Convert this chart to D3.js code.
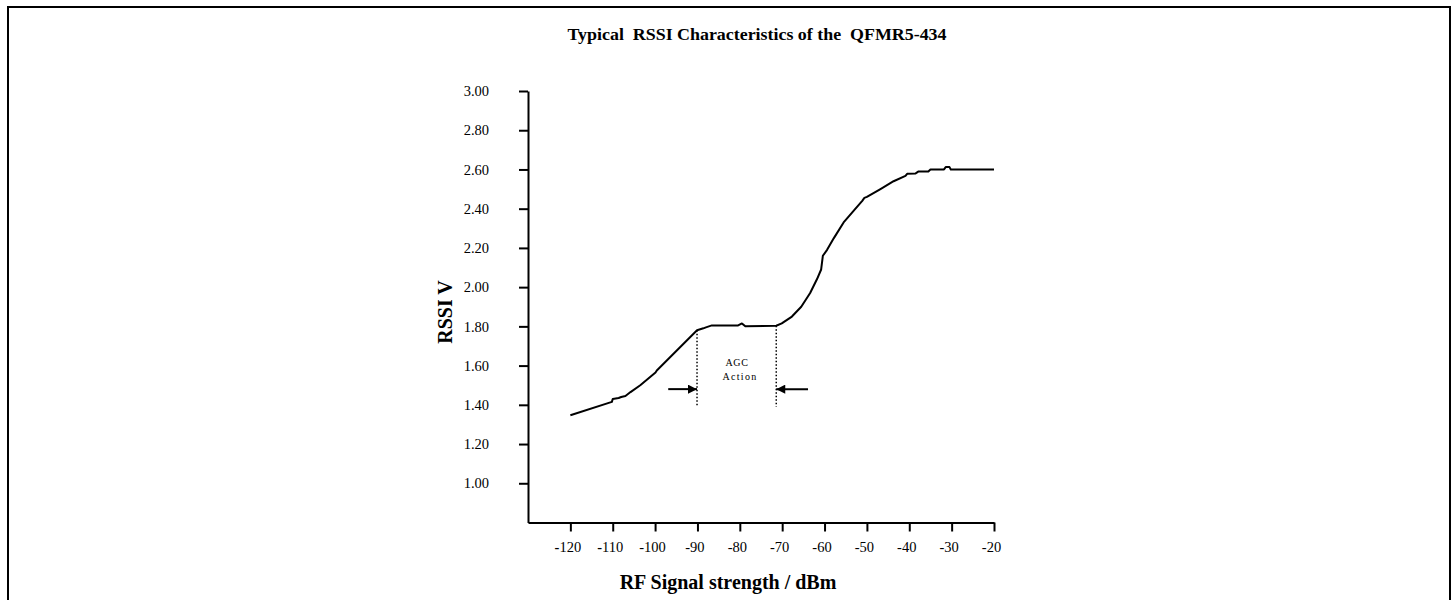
<!DOCTYPE html>
<html>
<head>
<meta charset="utf-8">
<script src="https://cdnjs.cloudflare.com/ajax/libs/d3/7.8.5/d3.min.js"></script>
<style>
    body { margin: 0; background: #fff; }
    svg text { font-family: "Liberation Serif", "Times New Roman", serif; fill: #000; }
</style>
</head>
<body>
<svg id="chart" width="1452" height="600"></svg>
<script>
// curve: signal strength (dBm) and RSSI (V)
var rfLevel = [-120, -110.2, -110, -108.6, -108, -107, -106.4, -105.8, -103.5, -99.9, -99.6, -90.1, -88.6, -88, -86.6, -80.4, -79.5, -78.7,
    -71.4, -70.1, -67.7, -65.5, -63.4, -61.8, -60.8, -60.4, -59.4, -57.8, -55.5, -53.1, -51.1, -50.6, -50, -46.8, -43.7,
    -40.9, -40.5, -38.5, -37.8, -35.5, -35, -31.8, -31.4, -30.5, -30.2, -20];
var rssi = [1.347, 1.415, 1.43, 1.435, 1.44, 1.445, 1.455, 1.465, 1.5, 1.565, 1.575, 1.78, 1.79, 1.795, 1.805, 1.805, 1.815, 1.8,
    1.803, 1.815, 1.85, 1.9, 1.97, 2.04, 2.09, 2.16, 2.19, 2.25, 2.33, 2.39, 2.44, 2.455, 2.46, 2.5, 2.54,
    2.567, 2.578, 2.58, 2.59, 2.59, 2.6, 2.6, 2.612, 2.612, 2.6, 2.6];

var xTicks = [-120, -110, -100, -90, -80, -70, -60, -50, -40, -30, -20];
var yTicks = [1.0, 1.2, 1.4, 1.6, 1.8, 2.0, 2.2, 2.4, 2.6, 2.8, 3.0];

// AGC band markers (dBm / V)
var agcEdges = [-90.1, -71.4];
var agcTop = [1.78, 1.803];
var agcBottom = 1.39;
var arrowFrom = [-96.9, -63.9];
var arrowLevel = 1.48;
var agcLabel = ['AGC', 'Action'];

var svg = d3.select('#chart');

// page frame
svg.append('rect')
    .attr('x', 8).attr('y', 7)
    .attr('width', 1442).attr('height', 640)
    .attr('fill', 'none').attr('stroke', '#000').attr('stroke-width', 2);

var x = d3.scaleLinear().domain([-130, -20]).range([528, 994]);
var y = d3.scaleLinear().domain([0.8, 3.0]).range([522.5, 91]);

// title
svg.append('text')
    .attr('x', 757).attr('y', 40)
    .attr('text-anchor', 'middle')
    .attr('font-size', 16).attr('font-weight', 'bold')
    .attr('textLength', 379).attr('lengthAdjust', 'spacingAndGlyphs')
    .style('white-space', 'pre')
    .text('Typical  RSSI Characteristics of the  QFMR5-434');

// axes
var xAxis = d3.axisBottom(x)
    .tickValues(xTicks)
    .tickSize(9).tickSizeOuter(0).tickPadding(10)
    .tickFormat(function(d){ return d; });

var yAxis = d3.axisLeft(y)
    .tickValues(yTicks)
    .tickSize(9).tickSizeOuter(0).tickPadding(30)
    .tickFormat(d3.format('.2f'));

var gx = svg.append('g')
    .attr('transform', 'translate(0,' + y(0.8) + ')')
    .call(xAxis);
var gy = svg.append('g')
    .attr('transform', 'translate(' + x(-130) + ',0)')
    .call(yAxis);

[gx, gy].forEach(function(g){
    g.select('.domain').attr('stroke-width', 2);
    g.selectAll('.tick line').attr('stroke-width', 2);
    g.selectAll('.tick text')
        .attr('font-size', 14.5)
        .attr('fill', '#222');
});
gx.selectAll('.tick text').attr('dx', -3);
// the scan prints a heavier dash on the first two labels
gx.selectAll('.tick text')
    .filter(function(d){ return d <= -110; })
    .text('')
    .call(function(t){
        t.append('tspan').attr('font-weight', 'bold').text('-');
        t.append('tspan').text(function(d){ return Math.abs(d); });
    });

// axis titles
svg.append('text')
    .attr('x', 728).attr('y', 589)
    .attr('text-anchor', 'middle')
    .attr('font-size', 20).attr('font-weight', 'bold')
    .text('RF Signal strength / dBm');

svg.append('text')
    .attr('transform', 'translate(452,312) rotate(-90)')
    .attr('text-anchor', 'middle')
    .attr('font-size', 20).attr('font-weight', 'bold')
    .text('RSSI V');

// curve
var line = d3.line()
    .x(function(d){ return x(d[0]); })
    .y(function(d){ return y(d[1]); });

svg.append('path')
    .datum(d3.zip(rfLevel, rssi))
    .attr('d', line)
    .attr('fill', 'none')
    .attr('stroke', '#000')
    .attr('stroke-width', 2)
    .attr('stroke-linejoin', 'round');

// AGC markers
svg.selectAll('.agc-edge')
    .data(agcEdges)
    .enter().append('line')
    .attr('class', 'agc-edge')
    .attr('x1', function(d){ return x(d); })
    .attr('x2', function(d){ return x(d); })
    .attr('y1', function(d, i){ return y(agcTop[i]); })
    .attr('y2', y(agcBottom))
    .attr('stroke', '#000')
    .attr('stroke-width', 1.5)
    .attr('stroke-dasharray', '1.5,2');

svg.append('defs').append('marker')
    .attr('id', 'head')
    .attr('viewBox', '0 0 10 10')
    .attr('refX', 10).attr('refY', 5)
    .attr('markerWidth', 10).attr('markerHeight', 9)
    .attr('markerUnits', 'userSpaceOnUse')
    .attr('orient', 'auto')
    .append('path')
    .attr('d', 'M0,0L10,5L0,10Z')
    .attr('fill', '#000');

svg.selectAll('.agc-arrow')
    .data(arrowFrom)
    .enter().append('line')
    .attr('class', 'agc-arrow')
    .attr('x1', function(d){ return x(d); })
    .attr('x2', function(d, i){ return x(agcEdges[i]); })
    .attr('y1', y(arrowLevel))
    .attr('y2', y(arrowLevel))
    .attr('stroke', '#000')
    .attr('stroke-width', 2)
    .attr('marker-end', 'url(#head)');

svg.selectAll('.agc-label')
    .data(agcLabel)
    .enter().append('text')
    .attr('class', 'agc-label')
    .attr('x', function(d, i){ return i === 0 ? 737 : 740; })
    .attr('y', function(d, i){ return 366 + i * 14; })
    .attr('text-anchor', 'middle')
    .attr('font-size', 10)
    .attr('letter-spacing', function(d, i){ return i === 0 ? 0.6 : 1.3; })
    .text(function(d){ return d; });
</script>
</body>
</html>
